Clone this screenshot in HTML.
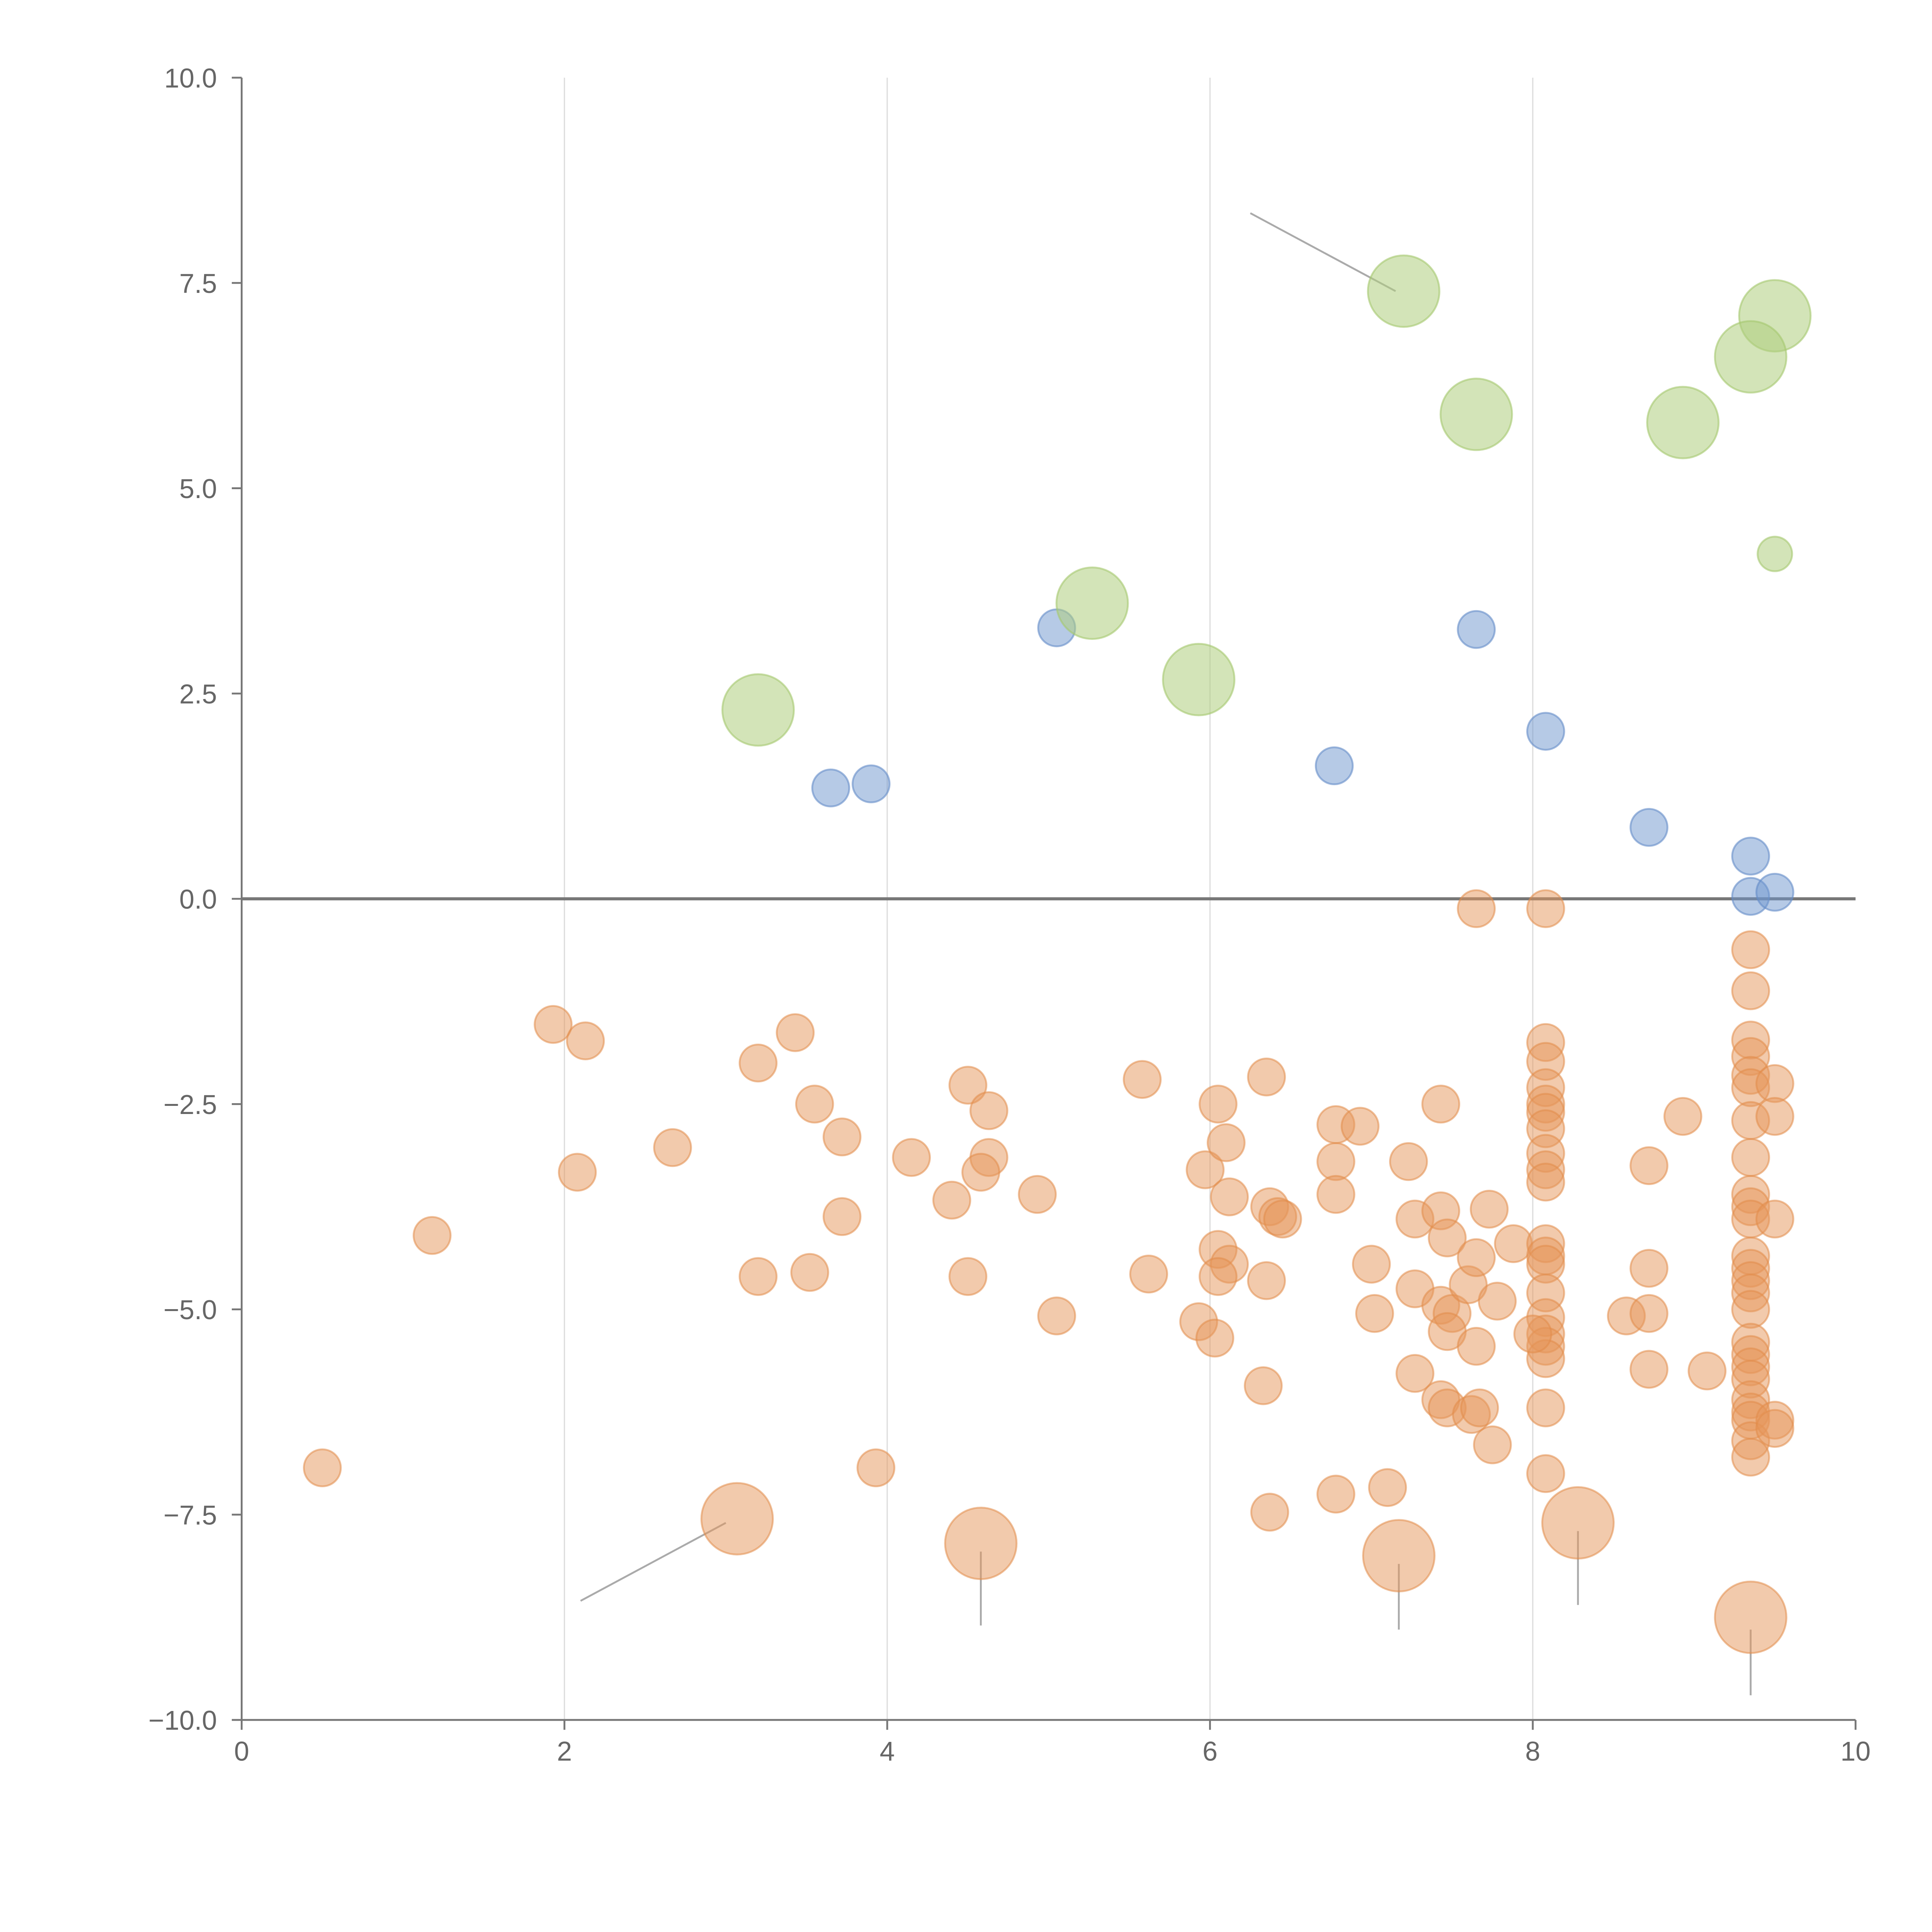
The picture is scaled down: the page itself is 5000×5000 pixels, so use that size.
<!DOCTYPE html>
<html><head><meta charset="utf-8"><style>
html,body{margin:0;padding:0;background:#fff;}
svg{display:block;}
text{font-family:"Liberation Sans",sans-serif;fill:#666;font-size:22px;}
</style></head><body>
<svg id="chart" width="5000" height="5000" viewBox="0 0 1567 1567" xmlns="http://www.w3.org/2000/svg">
<g id="grid"></g>
<g id="axes"></g>
<g id="leaders"></g>
<g id="marks"></g>
</svg>
<script>
const xTicks=[0,2,4,6,8,10];
const yTicks=[10,7.5,5,2.5,0,-2.5,-5,-7.5,-10];
const greenX=[7.2,9.5,9.35,7.65,8.93,5.27,5.93,3.2];
const greenY=[7.4,7.1,6.6,5.9,5.8,3.6,2.67,2.3];
const greenSmallX=[9.5];
const greenSmallY=[4.2];
const blueX=[5.05,3.65,3.9,6.77,7.65,8.08,8.72,9.35,9.35,9.5];
const blueY=[3.3,1.35,1.4,1.62,3.28,2.04,0.87,0.52,0.03,0.08];
const orangeBigX=[3.07,4.58,7.17,8.28,9.35];
const orangeBigY=[-7.55,-7.85,-8.0,-7.6,-8.75];
const leaderX1=[3.0,4.58,7.17,8.28,9.35,7.15];
const leaderY1=[-7.6,-7.95,-8.1,-7.7,-8.9,7.4];
const leaderX2=[2.1,4.58,7.17,8.28,9.35,6.25];
const leaderY2=[-8.55,-8.85,-8.9,-8.6,-9.7,8.35];
const orangeX=[1.93,2.13,0.5,1.18,2.08,2.67,3.2,3.43,3.55,3.72,3.72,3.2,3.52,3.93,4.15,4.4,4.5,4.63,4.63,4.58,4.5,4.93,5.05,5.58,5.62,5.93,5.97,6.05,6.1,6.12,6.03,6.05,6.12,6.05,6.35,6.37,6.42,6.45,6.35,6.33,6.37,6.78,6.93,6.78,6.78,7.0,7.02,6.78,7.1,7.23,7.27,7.27,7.27,7.43,7.43,7.47,7.43,7.5,7.47,7.43,7.47,7.6,7.65,7.65,7.62,7.67,7.73,7.78,7.75,7.88,7.65,
8.08,8.08,8.08,8.08,8.08,8.08,8.08,8.08,8.08,8.08,8.08,8.08,8.08,8.08,8.08,8.08,8.08,8.08,8.08,8.08,8.0,
8.58,8.72,8.72,8.72,8.72,8.93,9.08,
9.35,9.35,9.35,9.35,9.35,9.35,9.35,9.35,9.35,9.35,9.35,9.35,9.35,9.35,9.35,9.35,9.35,9.35,9.35,9.35,9.35,9.35,9.35,9.35,9.35,
9.5,9.5,9.5,9.5,9.5];
const orangeY=[-1.53,-1.73,-6.93,-4.1,-3.33,-3.03,-2.0,-1.63,-2.5,-2.9,-3.87,-4.6,-4.55,-6.93,-3.15,-3.67,-2.27,-2.58,-3.15,-3.33,-4.6,-3.6,-5.08,-2.2,-4.57,-5.15,-3.3,-2.5,-2.97,-3.63,-5.35,-4.27,-4.45,-4.6,-2.17,-3.75,-3.87,-3.9,-4.65,-5.93,-7.47,-2.75,-2.77,-3.2,-3.6,-4.45,-5.05,-7.25,-7.17,-3.2,-3.9,-4.75,-5.78,-2.5,-3.8,-4.13,-4.95,-5.05,-5.27,-6.1,-6.2,-4.7,-4.37,-5.45,-6.28,-6.2,-3.78,-4.9,-6.65,-4.2,-0.12,
-0.12,-1.75,-1.98,-2.3,-2.5,-2.6,-2.8,-3.1,-3.3,-3.45,-4.2,-4.35,-4.45,-4.8,-5.1,-5.3,-5.45,-5.6,-6.2,-7.0,-5.3,
-5.08,-3.25,-4.5,-5.05,-5.73,-2.65,-5.75,
-0.62,-1.12,-1.72,-1.92,-2.15,-2.3,-2.7,-3.15,-3.6,-3.75,-3.9,-4.35,-4.5,-4.65,-4.8,-5.0,-5.4,-5.55,-5.7,-5.85,-6.1,-6.25,-6.35,-6.6,-6.8,
-2.25,-2.65,-3.9,-6.35,-6.45];

const NS="http://www.w3.org/2000/svg";
const X0=196,X1=1505,Y0=1395,Y1=63;
function sx(v){return X0+(v-0)/(10-0)*(X1-X0);}
function sy(v){return Y0-(v+10)/20*(Y0-Y1);}
function mk(tag,attrs,parent){const e=document.createElementNS(NS,tag);for(const k in attrs)e.setAttribute(k,attrs[k]);parent.appendChild(e);return e;}
const grid=document.getElementById('grid'),axes=document.getElementById('axes'),marks=document.getElementById('marks'),leaders=document.getElementById('leaders');
xTicks.forEach(t=>{
  if(t>0&&t<10){const g=mk('line',{x1:sx(t),x2:sx(t),y1:Y1,y2:Y0,stroke:'#ddd','stroke-width':1},grid);
  
  }
  const tk=mk('line',{x1:sx(t),x2:sx(t),y1:Y0,y2:Y0+8,stroke:'#777','stroke-width':1.5},axes);
  
  
  const lb=mk('text',{x:sx(t),y:Y0+33,'text-anchor':'middle'},axes);lb.textContent=String(t);
  
  
});
yTicks.forEach(t=>{
  const tk=mk('line',{x1:X0-8,x2:X0,y1:sy(t),y2:sy(t),stroke:'#777','stroke-width':1.5},axes);
  
  
  const lb=mk('text',{x:X0-20,y:sy(t)+8,'text-anchor':'end'},axes);lb.textContent=t.toFixed(1).replace('-','\u2212');
  
  
});
let a=mk('line',{x1:X0,x2:X0,y1:Y1,y2:Y0,stroke:'#777','stroke-width':1.5},axes);


a=mk('line',{x1:X0,x2:X1,y1:Y0,y2:Y0,stroke:'#777','stroke-width':1.5},axes);


a=mk('line',{x1:X0,x2:X1,y1:sy(0),y2:sy(0),stroke:'#777','stroke-width':2.5},axes);


leaderX1.forEach((v,i)=>{
  const l=mk('line',{x1:sx(v),y1:sy(leaderY1[i]),x2:sx(leaderX2[i]),y2:sy(leaderY2[i]),stroke:'#aaa','stroke-width':1.5},leaders);
  
  
});
function dots(xs,ys,r,fill,stroke,name){
  xs.forEach((v,i)=>{
    const c=mk('circle',{cx:sx(v),cy:sy(ys[i]),r:r,fill:fill,stroke:stroke,'stroke-width':1.5},marks);
    
    
  });
}
dots(orangeX,orangeY,15,'rgba(230,150,90,0.5)','rgba(225,140,75,0.55)','orange-point');
dots(orangeBigX,orangeBigY,29,'rgba(230,150,90,0.5)','rgba(225,140,75,0.55)','orange-large-point');
dots(blueX,blueY,15,'rgba(110,150,205,0.5)','rgba(100,140,200,0.6)','blue-point');
dots(greenX,greenY,29,'rgba(175,205,125,0.55)','rgba(165,200,110,0.6)','green-large-point');
dots(greenSmallX,greenSmallY,14,'rgba(175,205,125,0.55)','rgba(165,200,110,0.6)','green-point');
</script>
</body></html>
